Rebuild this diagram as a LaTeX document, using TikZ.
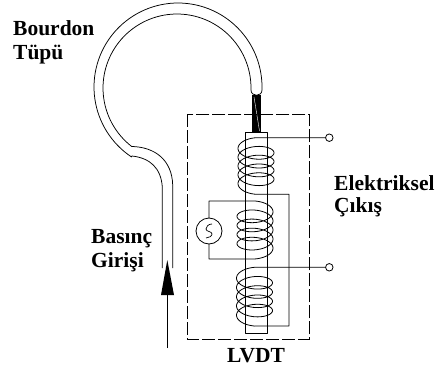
\documentclass[tikz,border=0pt]{standalone}
\usepackage{fontspec}
\setmainfont{Liberation Serif}
\usetikzlibrary{arrows.meta}
\tikzset{
  wire/.style={line width=0.8pt,black,line join=round},
  tube/.style={line width=0.75pt,black},
  textlabel/.style={font=\fontsize{21.5}{22}\selectfont\bfseries,inner sep=0pt,anchor=base west,align=left},
  terminal/.style={circle,draw,line width=0.8pt,fill=white,minimum size=7.5pt,inner sep=0pt},
  source/.style={circle,draw,line width=0.8pt,fill=white,minimum size=26pt,inner sep=0pt},
  framebox/.style={line width=0.8pt,dash pattern=on 13pt off 3pt}
}
\begin{document}
\begin{tikzpicture}[x=1pt,y=-1pt]
\useasboundingbox (0,0) rectangle (435,374);
% Bourdon tube
\draw[tube] (162.3,268) -- (162.3,187) .. controls (161,168) and (150,158) .. (132,156)
  -- plot[smooth,samples=80,domain=123.7:360] ({178+84*cos(\x)},{87+84*sin(\x)})
  -- (262,90) .. controls (262,97) and (251,97) .. (251,90)
  -- plot[smooth,samples=80,domain=360:127.8] ({177+74*cos(\x)},{88+74*sin(\x)})
  .. controls (155,147) and (172,160) .. (172.7,185) -- (172.7,268);
% rod
\fill[black] (251.7,95) rectangle (260.7,132);
\draw[white,line width=0.4pt] (254,97) -- (259.5,131);
% dashed enclosure
\draw[framebox] (187.3,114.3) rectangle (309.3,339.3);
% core
\draw[wire] (245,132) rectangle (267,333.3);
% terminals and source
\node[terminal] (t1) at (329.3,137.7) {};
\node[terminal] (t2) at (329.3,267.3) {};
\coordinate (ac0) at (209,231);
\coordinate (c1a) at (256,137.7);
\coordinate (c1b) at (256,194.3);
\coordinate (c2a) at (255,201);
\coordinate (c2b) at (255,259);
\coordinate (c3a) at (254.5,267.3);
\coordinate (c3b) at (254.5,326);
\coordinate (k1) at (289,194.3);
\coordinate (k2) at (289,326);
\coordinate (s1) at (209,201);
\coordinate (s2) at (209,259);
% coil 1
\draw[wire] (t1) -- (c1a)
  -- plot[smooth,samples=200,domain=90:1710] ({256+18*cos(\x)},{146.2+8.8*(\x-90)/360-8.5*sin(\x)})
  -- (c1b) -- (k1) -- (k2) -- (c3b);
% coil 2
\draw[wire] (ac0) -- (s1) -- (c2a)
  -- plot[smooth,samples=200,domain=90:-1530] ({255+18*cos(\x)},{209.5+9.1*(90-\x)/360-8.5*sin(\x)})
  -- (c2b) -- (s2) -- (ac0);
\node[source] (ac) at (ac0) {};
\draw[wire,line width=0.7pt] (212,224) .. controls (208,224) and (206,227) .. (206,229)
  .. controls (206,232) and (212,231) .. (212,234) .. controls (212,236) and (209,238) .. (206,238);
% coil 3
\draw[wire] (t2) -- (c3a)
  -- plot[smooth,samples=200,domain=90:1710] ({254.5+18*cos(\x)},{275.8+9.27*(\x-90)/360-8.5*sin(\x)})
  -- (c3b);
% pressure arrow
\coordinate (a0) at (167.3,348);
\coordinate (a1) at (167.3,295);
\draw[wire] (a0) -- (a1);
\fill[black] (167.3,260) -- (174,295) -- (161,295) -- cycle;
% labels
\node[textlabel] (bt) at (13,59.3) {Bourdon\\[2pt]Tüpü};
\node[textlabel] (bg) at (91,267.7) {Basınç\\[2.5pt]Girişi};
\node[textlabel] (ec) at (334,212.3) {Elektriksel\\Çıkış};
\node[textlabel] (lv) at (227,362) {LVDT};
\end{tikzpicture}
\end{document}
